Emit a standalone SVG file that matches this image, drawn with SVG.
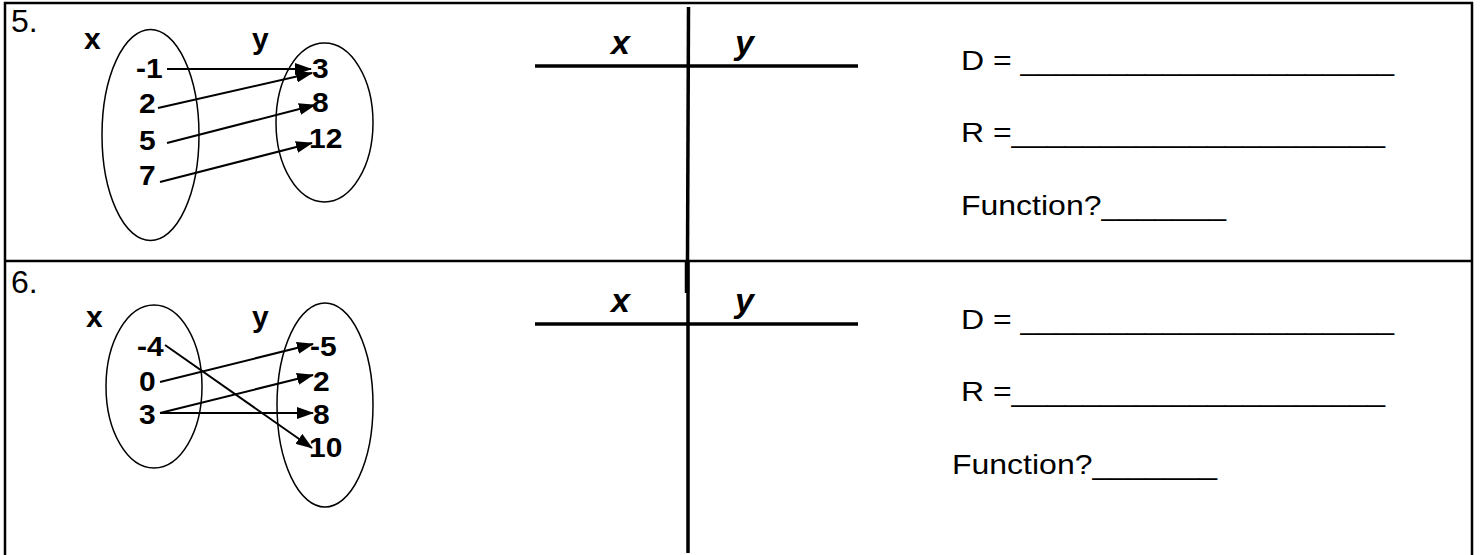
<svg xmlns="http://www.w3.org/2000/svg" width="1481" height="555" viewBox="0 0 1481 555">
<defs>
<marker id="ah" viewBox="0 0 17 12" refX="16" refY="6" markerWidth="17" markerHeight="12" markerUnits="userSpaceOnUse" orient="auto"><path d="M0,0 L17,6 L0,12 z" fill="#000"/></marker>
</defs>
<style>
.frame{stroke:#000;stroke-width:2.5;fill:none}
.ell{fill:none;stroke:#000;stroke-width:1.5}
.num{font-family:"Liberation Sans",Arial,sans-serif;font-weight:bold;font-size:30px;fill:#000}
.qn{font-family:"Liberation Sans",Arial,sans-serif;font-size:32px;fill:#000}
.conn line{stroke:#000;stroke-width:2;marker-end:url(#ah)}
.tt{stroke:#000;stroke-width:3.5;fill:none}
.ttl{font-family:"Liberation Sans",Arial,sans-serif;font-weight:bold;font-style:italic;font-size:34px;fill:#000}
.txt{font-family:"Liberation Sans",Arial,sans-serif;font-size:30px;fill:#000}
</style>
<rect width="1481" height="555" fill="#fff"/>
<g id="frame" class="frame">
<line x1="4" y1="3" x2="1473" y2="3"/>
<line x1="5" y1="2" x2="5" y2="555"/>
<line x1="1472" y1="2" x2="1472" y2="555"/>
<line x1="4" y1="261" x2="1473" y2="261"/>
</g>
<text class="qn" x="11" y="32">5.</text>
<text class="qn" x="11" y="293">6.</text>
<g id="set5x">
<ellipse class="ell" cx="150.5" cy="135" rx="48.5" ry="105.5"/>
<text class="num" x="84" y="49">x</text>
<text class="num" x="136" y="78" transform="matrix(1,0,0,0.93,0,5.46)">-1</text>
<text class="num" x="139" y="113" transform="matrix(1,0,0,0.93,0,7.91)">2</text>
<text class="num" x="139" y="150" transform="matrix(1,0,0,0.93,0,10.5)">5</text>
<text class="num" x="139" y="185" transform="matrix(1,0,0,0.93,0,12.95)">7</text>
</g>
<g id="set5y">
<ellipse class="ell" cx="324.5" cy="122.5" rx="48.5" ry="79.5"/>
<text class="num" x="252" y="49">y</text>
<text class="num" x="312" y="78" transform="matrix(1,0,0,0.93,0,5.46)">3</text>
<text class="num" x="312" y="112" transform="matrix(1,0,0,0.93,0,7.84)">8</text>
<text class="num" x="309" y="148" transform="matrix(1,0,0,0.93,0,10.36)">12</text>
</g>
<g id="set6x">
<ellipse class="ell" cx="154" cy="386.5" rx="48" ry="81.5"/>
<text class="num" x="86" y="327">x</text>
<text class="num" x="137" y="356" transform="matrix(1,0,0,0.93,0,24.92)">-4</text>
<text class="num" x="139" y="391" transform="matrix(1,0,0,0.93,0,27.37)">0</text>
<text class="num" x="139" y="424" transform="matrix(1,0,0,0.93,0,29.68)">3</text>
</g>
<g id="set6y">
<ellipse class="ell" cx="325" cy="405" rx="48" ry="102"/>
<text class="num" x="252" y="327">y</text>
<text class="num" x="310" y="356" transform="matrix(1,0,0,0.93,0,24.92)">-5</text>
<text class="num" x="313" y="391" transform="matrix(1,0,0,0.93,0,27.37)">2</text>
<text class="num" x="313" y="424" transform="matrix(1,0,0,0.93,0,29.68)">8</text>
<text class="num" x="309" y="457" transform="matrix(1,0,0,0.93,0,31.99)">10</text>
</g>
<g id="connectors" class="conn">
<line x1="167" y1="69" x2="311" y2="69"/>
<line x1="158" y1="108" x2="312" y2="73"/>
<line x1="167" y1="143" x2="315" y2="105"/>
<line x1="160" y1="182" x2="312" y2="143"/>
<line x1="165" y1="345" x2="312" y2="448"/>
<line x1="160" y1="382" x2="313" y2="344"/>
<line x1="160" y1="413" x2="313" y2="375"/>
<line x1="160" y1="413" x2="313" y2="413"/>
</g>
<g id="table5">
<line class="tt" x1="535" y1="66" x2="858" y2="66"/>
<line class="tt" x1="688.5" y1="7" x2="687.5" y2="262"/>
<line class="tt" x1="687" y1="262" x2="687" y2="293" style="stroke-width:4.5"/>
<text class="ttl" x="611" y="54">x</text>
<text class="ttl" x="735" y="54">y</text>
</g>
<g id="table6">
<line class="tt" x1="535" y1="324" x2="858" y2="324"/>
<line class="tt" x1="688" y1="262" x2="688" y2="553"/>
<text class="ttl" x="611" y="312">x</text>
<text class="ttl" x="735" y="312">y</text>
</g>
<g id="answers5">
<text class="txt" x="961" y="70" textLength="433" lengthAdjust="spacingAndGlyphs" transform="matrix(1,0,0,0.9,0,7)">D = _____________________</text>
<text class="txt" x="961" y="142" textLength="424" lengthAdjust="spacingAndGlyphs" transform="matrix(1,0,0,0.9,0,14.2)">R =_____________________</text>
<text class="txt" x="961" y="215" textLength="265" lengthAdjust="spacingAndGlyphs" transform="matrix(1,0,0,0.9,0,21.5)">Function?_______</text>
</g>
<g id="answers6">
<text class="txt" x="961" y="329" textLength="433" lengthAdjust="spacingAndGlyphs" transform="matrix(1,0,0,0.9,0,32.9)">D = _____________________</text>
<text class="txt" x="961" y="401" textLength="424" lengthAdjust="spacingAndGlyphs" transform="matrix(1,0,0,0.9,0,40.1)">R =_____________________</text>
<text class="txt" x="952" y="474" textLength="265" lengthAdjust="spacingAndGlyphs" transform="matrix(1,0,0,0.9,0,47.4)">Function?_______</text>
</g>
</svg>
